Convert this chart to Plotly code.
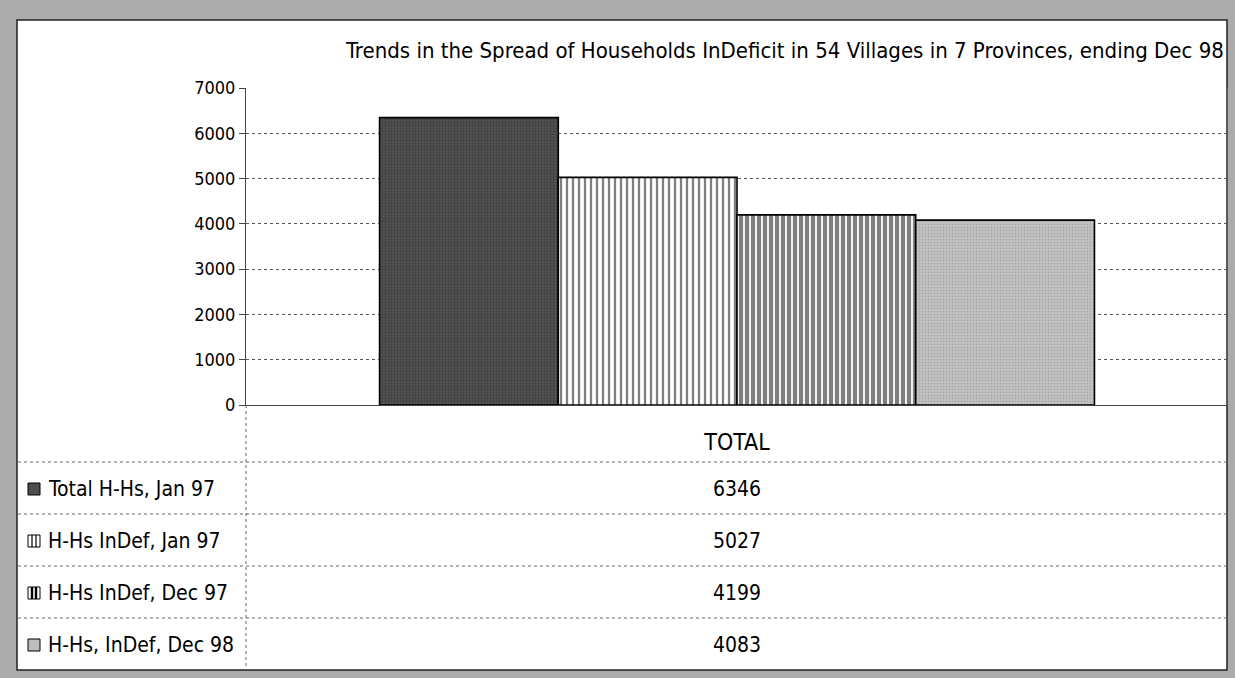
import plotly.graph_objects as go

# ---------------- data ----------------
categories = ["TOTAL"]
series_names = ["Total H-Hs, Jan 97", "H-Hs InDef, Jan 97", "H-Hs InDef, Dec 97", "H-Hs, InDef, Dec 98"]
series_values = [6346, 5027, 4199, 4083]
y_ticks = [0, 1000, 2000, 3000, 4000, 5000, 6000, 7000]
title_text = "Trends in the Spread of Households InDeficit in 54 Villages in 7 Provinces, ending Dec 98"

# ---------------- layout geometry (pixels) ----------------
W, H = 1235, 678
L, R, T, B = 246, 1228, 88, 405
FONT = "DejaVu Sans Condensed, Liberation Sans Narrow, DejaVu Sans, sans-serif"


def xp(px):
    return (px - L) / (R - L)


def yp(py):
    return (B - py) / (B - T)


styles = [
    dict(color="#505050", pattern=dict(shape=".", fgcolor="#262626", bgcolor="#555555", size=3, solidity=0.45)),
    dict(color="white", pattern=dict(shape="|", fgcolor="black", bgcolor="white", size=6, solidity=0.38)),
    dict(color="white", pattern=dict(shape="|", fgcolor="black", bgcolor="white", size=6, solidity=0.7)),
    dict(color="#bdbdbd", pattern=dict(shape=".", fgcolor="#8e8e8e", bgcolor="#c4c4c4", size=3, solidity=0.35)),
]

fig = go.Figure()
for name, val, st in zip(series_names, series_values, styles):
    fig.add_trace(go.Bar(
        x=categories, y=[val], name=name,
        marker=dict(color=st["color"], pattern=st["pattern"], line=dict(color="black", width=1.6)),
        showlegend=False,
    ))

shapes = []
annotations = []

# white inner panel on gray frame
shapes.append(dict(type="rect", xref="paper", yref="paper", layer="below",
                   x0=xp(17), x1=xp(1227), y0=yp(20), y1=yp(670),
                   fillcolor="white", line=dict(color="#222", width=1.5)))

# data table lines
for py in [462, 514, 566, 618]:
    shapes.append(dict(type="line", xref="paper", yref="paper",
                       x0=xp(18), x1=xp(1227), y0=yp(py), y1=yp(py),
                       line=dict(color="#666", width=1, dash="dot")))
shapes.append(dict(type="line", xref="paper", yref="paper",
                   x0=xp(246), x1=xp(246), y0=yp(405), y1=yp(670),
                   line=dict(color="#666", width=1, dash="dot")))

row_centers = [489, 541, 593, 645]
for i, (name, val, st) in enumerate(zip(series_names, series_values, styles)):
    cy = row_centers[i]
    kx0, kx1 = 28, 40
    ky0, ky1 = cy - 6, cy + 6
    fill = {0: "#4e4e4e", 1: "white", 2: "white", 3: "#bdbdbd"}[i]
    shapes.append(dict(type="rect", xref="paper", yref="paper",
                       x0=xp(kx0), x1=xp(kx1), y0=yp(ky1), y1=yp(ky0),
                       fillcolor=fill, line=dict(color="black", width=1)))
    if i in (1, 2):
        lw = 1.2 if i == 1 else 2.4
        for lx in (32, 36):
            shapes.append(dict(type="line", xref="paper", yref="paper",
                               x0=xp(lx), x1=xp(lx), y0=yp(ky1), y1=yp(ky0),
                               line=dict(color="black", width=lw)))
    annotations.append(dict(xref="paper", yref="paper", x=xp(46), y=yp(cy),
                            xanchor="left", yanchor="middle", showarrow=False,
                            text=name, font=dict(family=FONT, size=21, color="black")))
    annotations.append(dict(xref="paper", yref="paper", x=xp(737), y=yp(cy),
                            xanchor="center", yanchor="middle", showarrow=False,
                            text=str(val), font=dict(family=FONT, size=21, color="black")))

# title
annotations.append(dict(xref="paper", yref="paper", x=xp(1226), y=yp(50),
                        xanchor="right", yanchor="middle", showarrow=False,
                        text=title_text, font=dict(family=FONT, size=22, color="black")))

fig.update_layout(
    width=W, height=H,
    margin=dict(l=L, r=W - R, t=T, b=H - B, pad=0),
    paper_bgcolor="#ababab",
    plot_bgcolor="white",
    barmode="group",
    bargap=0.272,
    bargroupgap=0,
    shapes=shapes,
    annotations=annotations,
    font=dict(family=FONT, color="black"),
)
fig.update_yaxes(
    range=[0, 7000], tickvals=y_ticks, ticktext=[str(v) for v in y_ticks],
    showgrid=True, gridcolor="#555", griddash="dot", gridwidth=1,
    showline=True, linecolor="#444", linewidth=1,
    ticks="outside", ticklen=6, tickcolor="#444",
    tickfont=dict(family=FONT, size=18, color="black"),
    zeroline=False,
)
fig.update_xaxes(
    showline=True, linecolor="#444", linewidth=1,
    ticks="", tickfont=dict(family=FONT, size=23, color="black"),
    ticklabelstandoff=16,
)

fig.write_html("out.html", config={"displayModeBar": False},
               post_script="document.body.style.margin='0';document.body.style.overflow='hidden';")
